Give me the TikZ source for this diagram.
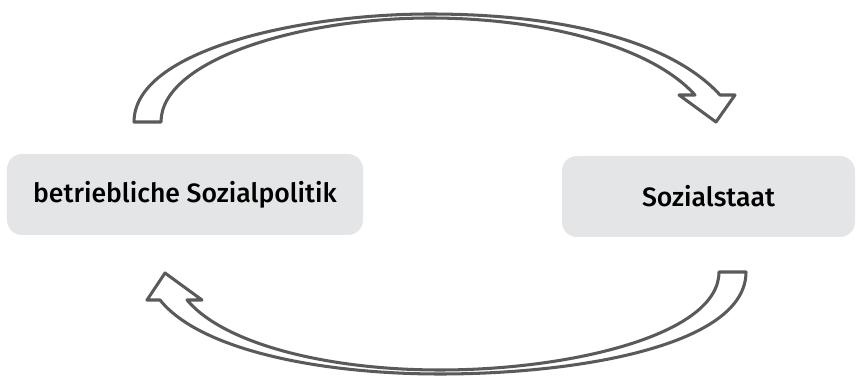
\documentclass[tikz,border=0pt]{standalone}
\usepackage{fontspec}
\setmainfont{Fira Sans Medium}
\definecolor{boxgray}{HTML}{E4E5E7}
\definecolor{arrowgray}{HTML}{5A5A5A}
\begin{document}
\begin{tikzpicture}[x=0.03cm,y=-0.03cm,
            box node/.style={fill=boxgray,rounded corners=0.45cm,minimum height=2.43cm,
              inner sep=0pt,font=\fontsize{22.7}{26}\selectfont},
            block arrow/.style={fill=white,draw=arrowgray,line width=2.6pt,line join=round}]
        \useasboundingbox (0,0) rectangle (856,376);

        % Define boxes
        \node[box node,minimum width=10.68cm] (politik) at (185,194.5) {betriebliche Sozialpolitik};
        \node[box node,minimum width=8.79cm] (staat) at (708.5,196.5) {Sozialstaat};

        % Draw arrows
        \draw[block arrow] (134,122) -- (161,122)
            .. controls (161,60) and (300,18) .. (430,18)
            .. controls (540,18) and (650,45) .. (695,95)
            -- (679,95) -- (716,122) -- (735,95) -- (720,95)
            .. controls (670,40) and (560,14) .. (430,14)
            .. controls (300,14) and (134,50) .. (134,122) -- cycle;
        \draw[block arrow] (746,272) -- (719,272)
            .. controls (719,335) and (570,370) .. (440,370)
            .. controls (330,370) and (225,345) .. (187,300)
            -- (202,300) -- (165,273) -- (147,300) -- (160,300)
            .. controls (200,350) and (320,374) .. (440,374)
            .. controls (580,374) and (746,345) .. (746,272) -- cycle;

        \end{tikzpicture}
\end{document}
